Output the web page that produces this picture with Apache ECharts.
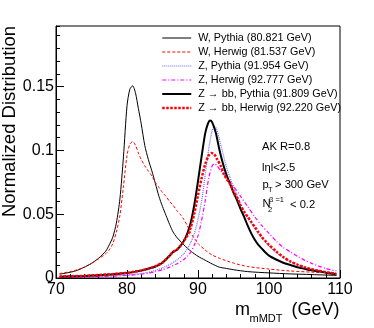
<!DOCTYPE html>
<html>
<head>
<meta charset="utf-8">
<script src="https://cdn.jsdelivr.net/npm/echarts@6/dist/echarts.min.js"></script>
<style>html,body{margin:0;padding:0;background:#fff;}#c{width:374px;height:328px;}</style>
</head>
<body>
<div id="c"></div>
<script>
// ---- data ----
var wPythiaM = [70.5,72,73,74,75,76,77,77.5,78,78.5,79,79.5,80,80.4,80.8,81.2,81.6,82,82.5,83,83.5,84,84.5,85,85.5,86,86.5,87,88,89,90,91,92,93,94,95,97,100,103,106,109.5];
var wPythiaV = [0.003,0.0045,0.006,0.0085,0.0115,0.0155,0.021,0.026,0.032,0.043,0.062,0.095,0.135,0.148,0.1507,0.145,0.133,0.121,0.104,0.093,0.084,0.074,0.064,0.056,0.049,0.042,0.036,0.032,0.026,0.021,0.017,0.014,0.011,0.0085,0.0075,0.0065,0.005,0.004,0.0032,0.0027,0.002];

var wHerwigM = [70.5,72,73,74,75,76,77,77.5,78,78.5,79,79.5,80,80.4,80.8,81.2,81.6,82,82.5,83,83.5,84,84.5,85,85.5,86,86.5,87,87.5,88,88.5,89,89.5,90,91,92,93,95,97,100,103,106,109.5];
var wHerwigV = [0.0035,0.005,0.0065,0.0085,0.0115,0.015,0.019,0.022,0.027,0.036,0.049,0.072,0.096,0.105,0.107,0.104,0.098,0.093,0.088,0.084,0.080,0.075,0.071,0.067,0.064,0.060,0.057,0.053,0.050,0.046,0.041,0.035,0.031,0.027,0.022,0.018,0.0155,0.0117,0.009,0.007,0.0055,0.0046,0.0037];

var zPythiaM = [70.5,72,74,76,78,80,82,83,84,85,86,87,88,88.5,89,89.5,90,90.5,91,91.5,92,92.3,92.6,93,93.5,94,94.5,95,95.5,96,96.5,97,97.5,98,98.5,99,99.5,100,101,102,103,104,105,106,107,108,109.5];
var zPythiaV = [0.0005,0.0007,0.001,0.0013,0.0018,0.0025,0.0035,0.0045,0.006,0.008,0.0105,0.014,0.019,0.023,0.028,0.035,0.046,0.060,0.080,0.101,0.116,0.119,0.117,0.109,0.098,0.087,0.079,0.071,0.065,0.058,0.052,0.047,0.043,0.039,0.035,0.031,0.028,0.025,0.020,0.016,0.0128,0.0105,0.0087,0.0072,0.006,0.005,0.0037];

var zHerwigM = [70.5,72,74,76,78,80,82,83,84,85,86,87,88,88.5,89,89.5,90,90.5,91,91.5,92,92.3,92.7,93.2,94,94.6,95,96,97,98,99,100,101,102,103,104,105,106,107,108,109.5];
var zHerwigV = [0.0003,0.0005,0.0008,0.0011,0.0015,0.002,0.003,0.0038,0.005,0.0065,0.0085,0.011,0.0145,0.017,0.0205,0.026,0.033,0.045,0.060,0.078,0.088,0.0895,0.088,0.084,0.079,0.075,0.072,0.064,0.056,0.048,0.041,0.035,0.029,0.024,0.0205,0.017,0.014,0.0115,0.0093,0.0075,0.0055];

var zbbPythiaM = [70.5,72,74,76,78,80,81,82,83,84,85,86,86.5,87,87.5,88,88.5,89,89.5,90,90.5,91,91.4,91.7,92,92.5,93,93.5,94,94.5,95,95.5,96,96.5,97,97.5,98,98.5,99,99.5,100,101,102,103,104,105,106,107,108,109.5];
var zbbPythiaV = [0.001,0.0012,0.0016,0.0022,0.003,0.004,0.0048,0.0058,0.0072,0.009,0.012,0.0175,0.0205,0.022,0.025,0.029,0.035,0.044,0.058,0.076,0.095,0.113,0.121,0.1235,0.122,0.114,0.101,0.090,0.081,0.074,0.067,0.061,0.054,0.048,0.041,0.035,0.030,0.026,0.023,0.020,0.0175,0.0145,0.012,0.0102,0.0085,0.0072,0.006,0.0052,0.0042,0.0028];

var zbbHerwigM = [70.5,72,74,76,78,80,81,82,83,84,85,86,86.5,87,87.5,88,88.5,89,89.5,90,90.5,91,91.5,91.9,92.3,92.7,93.2,93.6,94,94.6,95,95.5,96,96.5,97,97.5,98,98.5,99,99.5,100,101,102,103,104,105,106,107,108,109.5];
var zbbHerwigV = [0.0012,0.0014,0.0017,0.0023,0.0031,0.0041,0.0049,0.0059,0.0073,0.0092,0.0122,0.0175,0.0205,0.022,0.025,0.029,0.033,0.040,0.051,0.065,0.078,0.089,0.096,0.098,0.097,0.093,0.088,0.082,0.078,0.073,0.068,0.063,0.057,0.052,0.048,0.044,0.040,0.036,0.032,0.029,0.026,0.021,0.0165,0.013,0.0105,0.0085,0.0068,0.0057,0.0046,0.0032];

var seriesNames = ['W, Pythia (80.821 GeV)','W, Herwig (81.537 GeV)','Z, Pythia (91.954 GeV)','Z, Herwig (92.777 GeV)','Z \u2192 bb, Pythia (91.809 GeV)','Z \u2192 bb, Herwig (92.220 GeV)'];
var xTicks = [70, 80, 90, 100, 110];
var yTickLabels = ['0', '0.05', '0.1', '0.15'];

function zip(a, b) { return a.map(function (v, i) { return [v, b[i]]; }); }

var FONT = 'Liberation Sans, Arial, Helvetica, sans-serif';
var chart = echarts.init(document.getElementById('c'), null, {renderer: 'canvas'});

function mk(name, m, v, color, width, dash) {
  return {
    name: name, type: 'line', xAxisIndex: 0, yAxisIndex: 0,
    data: zip(m, v), smooth: 0.25, symbol: 'none', showSymbol: false,
    lineStyle: {color: color, width: width, type: dash},
    itemStyle: {color: color},
    animation: false, z: 3
  };
}

var option = {
  animation: false,
  backgroundColor: '#fff',
  grid: {left: 56, right: 34, top: 26, bottom: 50, show: true, borderColor: '#000', borderWidth: 1, containLabel: false},
  xAxis: [
    {type: 'value', min: 70, max: 110, interval: 10, position: 'bottom',
     axisLine: {show: true, lineStyle: {color: '#000', width: 1}},
     axisTick: {show: true, inside: true, length: 8, lineStyle: {color: '#000'}},
     axisLabel: {show: true, margin: 4, color: '#000', fontSize: 16, fontFamily: FONT,
       formatter: function (v) { return xTicks.indexOf(v) >= 0 ? String(v) : ''; }},
     splitLine: {show: false}},
    {type: 'value', min: 70, max: 110, interval: 2, position: 'bottom',
     axisLine: {show: false}, axisLabel: {show: false}, splitLine: {show: false},
     axisTick: {show: true, inside: true, length: 4, lineStyle: {color: '#000'}}}
  ],
  yAxis: [
    {type: 'value', min: 0, max: 0.1976, interval: 0.05, position: 'left',
     axisLine: {show: true, lineStyle: {color: '#000', width: 1}},
     axisTick: {show: true, inside: true, length: 8, lineStyle: {color: '#000'}},
     axisLabel: {show: true, margin: 2, color: '#000', fontSize: 16, fontFamily: FONT, showMaxLabel: false,
       formatter: function (v) { var i = Math.round(v / 0.05); return (Math.abs(v - i * 0.05) < 1e-9 && i < yTickLabels.length) ? yTickLabels[i] : ''; }},
     splitLine: {show: false}},
    {type: 'value', min: 0, max: 0.1976, interval: 0.01, position: 'left',
     axisLine: {show: false}, axisLabel: {show: false}, splitLine: {show: false},
     axisTick: {show: true, inside: true, length: 4, lineStyle: {color: '#000'}}}
  ],
  legend: {
    show: true, orient: 'vertical', left: 156, top: 26,
    itemWidth: 29, itemHeight: 14, itemGap: 0,
    textStyle: {fontSize: 10.8, fontFamily: FONT, color: '#000', lineHeight: 14, padding: [0, 0, 0, 2]},
    lineStyle: {width: 'inherit'},
    itemStyle: {color: 'rgba(0,0,0,0)', borderWidth: 0, opacity: 0},
    data: seriesNames
  },
  series: [
    mk(seriesNames[0], wPythiaM, wPythiaV, '#000000', 1, 'solid'),
    mk(seriesNames[1], wHerwigM, wHerwigV, '#ff0000', 1, [3, 2]),
    mk(seriesNames[2], zPythiaM, zPythiaV, '#6b6bff', 1.2, [1, 1]),
    mk(seriesNames[3], zHerwigM, zHerwigV, '#ff00ff', 1.2, [4, 2, 1, 2]),
    mk(seriesNames[4], zbbPythiaM, zbbPythiaV, '#000000', 2, 'solid'),
    mk(seriesNames[5], zbbHerwigM, zbbHerwigV, '#ff0000', 2.5, [2.5, 1.5])
  ],
  graphic: [
    {type: 'text', x: 9.5, y: 121.5, rotation: Math.PI / 2,
     style: {text: 'Normalized Distribution', fontSize: 18.5, fontFamily: FONT, fill: '#000', align: 'center', verticalAlign: 'middle'}},
    {type: 'text', x: 235, y: 310, style: {text: 'm', fontSize: 18, fontFamily: FONT, fill: '#000', align: 'left', verticalAlign: 'middle'}},
    {type: 'text', x: 249.5, y: 318.5, style: {text: 'mMDT', fontSize: 11, fontFamily: FONT, fill: '#000', align: 'left', verticalAlign: 'middle'}},
    {type: 'text', x: 291.5, y: 310, style: {text: '(GeV)', fontSize: 18, fontFamily: FONT, fill: '#000', align: 'left', verticalAlign: 'middle'}},
    {type: 'text', x: 262, y: 147, style: {text: 'AK R=0.8', fontSize: 11.2, fontFamily: FONT, fill: '#000', align: 'left', verticalAlign: 'middle'}},
    {type: 'text', x: 262, y: 168, style: {text: 'l\u03b7l<2.5', fontSize: 11.2, fontFamily: FONT, fill: '#000', align: 'left', verticalAlign: 'middle'}},
    {type: 'text', x: 262.5, y: 185, style: {text: 'p', fontSize: 11.2, fontFamily: FONT, fill: '#000', align: 'left', verticalAlign: 'middle'}},
    {type: 'text', x: 268, y: 190, style: {text: 'T', fontSize: 7.5, fontFamily: FONT, fill: '#000', align: 'left', verticalAlign: 'middle'}},
    {type: 'text', x: 275, y: 185, style: {text: '> 300 GeV', fontSize: 11.2, fontFamily: FONT, fill: '#000', align: 'left', verticalAlign: 'middle'}},
    {type: 'text', x: 262.5, y: 204, style: {text: 'N', fontSize: 11.2, fontFamily: FONT, fill: '#000', align: 'left', verticalAlign: 'middle'}},
    {type: 'text', x: 268, y: 209.5, style: {text: '2', fontSize: 7.5, fontFamily: FONT, fill: '#000', align: 'left', verticalAlign: 'middle'}},
    {type: 'text', x: 269, y: 199.5, style: {text: '\u03b2 =1', fontSize: 7.5, fontFamily: FONT, fill: '#000', align: 'left', verticalAlign: 'middle'}},
    {type: 'text', x: 290, y: 205, style: {text: '< 0.2', fontSize: 11.2, fontFamily: FONT, fill: '#000', align: 'left', verticalAlign: 'middle'}}
  ]
};
chart.setOption(option);
</script>
</body>
</html>
